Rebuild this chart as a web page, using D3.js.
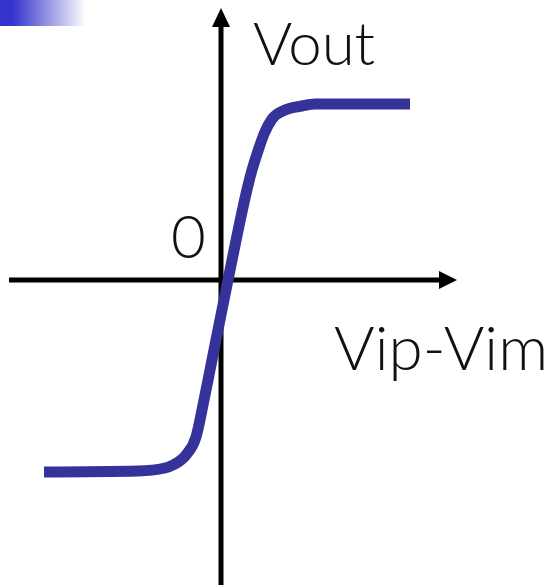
<!DOCTYPE html>
<html>
<head>
<meta charset="utf-8">
<script src="https://cdn.jsdelivr.net/npm/d3@7"></script>
<style>
  body { margin: 0; background: #fff; }
  svg { display: block; }
  .lbl { font-family: Lato, "Open Sans", sans-serif; font-weight: 300; fill: #111; }
</style>
</head>
<body>
<svg width="554" height="585"></svg>
<script>
// transfer curve, Vip-Vim vs Vout (arbitrary units)
var vdiff = [-0.885, -0.415, -0.28, -0.24, -0.175, -0.125, -0.085, -0.055, 0.035, 0.155, 0.185, 0.215, 0.255, 0.32, 0.405, 0.47, 0.945];
var vout  = [-0.96, -0.955, -0.94, -0.925, -0.875, -0.785, -0.60, -0.45, 0, 0.55, 0.645, 0.73, 0.805, 0.85, 0.87, 0.88, 0.88];
var xLabel = "Vip-Vim";
var yLabel = "Vout";
var originLabel = "0";

var svg = d3.select("svg");

var x = d3.scaleLinear().domain([-1, 1]).range([21, 421]);
var y = d3.scaleLinear().domain([-1, 1]).range([480, 80]);

// corner gradient strip
var defs = svg.append("defs");
var grad = defs.append("linearGradient").attr("id", "corner");
grad.append("stop").attr("offset", "0%").attr("stop-color", "#3333cc");
grad.append("stop").attr("offset", "15%").attr("stop-color", "#3535cc");
grad.append("stop").attr("offset", "100%").attr("stop-color", "#ffffff");
svg.append("rect")
    .attr("x", 0).attr("y", 0)
    .attr("width", 86).attr("height", 26)
    .attr("fill", "url(#corner)");

// axes
var axes = svg.append("g").attr("class", "axes");
axes.append("line")
    .attr("x1", 9).attr("x2", 441)
    .attr("y1", y(0)).attr("y2", y(0))
    .attr("stroke", "#000").attr("stroke-width", 5);
axes.append("path")
    .attr("d", "M439," + (y(0) - 9) + "L457," + y(0) + "L439," + (y(0) + 9) + "Z")
    .attr("fill", "#000");
axes.append("line")
    .attr("x1", x(0)).attr("x2", x(0))
    .attr("y1", 585).attr("y2", 26)
    .attr("stroke", "#000").attr("stroke-width", 5);
axes.append("path")
    .attr("d", "M" + (x(0) - 9) + ",27L" + x(0) + ",8L" + (x(0) + 9) + ",27Z")
    .attr("fill", "#000");

// curve
var pts = vdiff.map(function(d, i) { return [d, vout[i]]; });
var line = d3.line()
    .x(function(d) { return x(d[0]); })
    .y(function(d) { return y(d[1]); })
    .curve(d3.curveMonotoneX);

svg.append("path")
    .datum(pts)
    .attr("d", line)
    .attr("fill", "none")
    .attr("stroke", "#333399")
    .attr("stroke-width", 11)
    .attr("stroke-linejoin", "round");

// labels
svg.append("text").attr("class", "lbl")
    .attr("x", 253).attr("y", 65)
    .style("font-size", "60px")
    .text(yLabel);
svg.append("text").attr("class", "lbl")
    .attr("x", 171).attr("y", 258)
    .style("font-size", "60px")
    .text(originLabel);
svg.append("text").attr("class", "lbl")
    .attr("x", 334).attr("y", 370)
    .style("font-size", "62px")
    .text(xLabel);
</script>
</body>
</html>
